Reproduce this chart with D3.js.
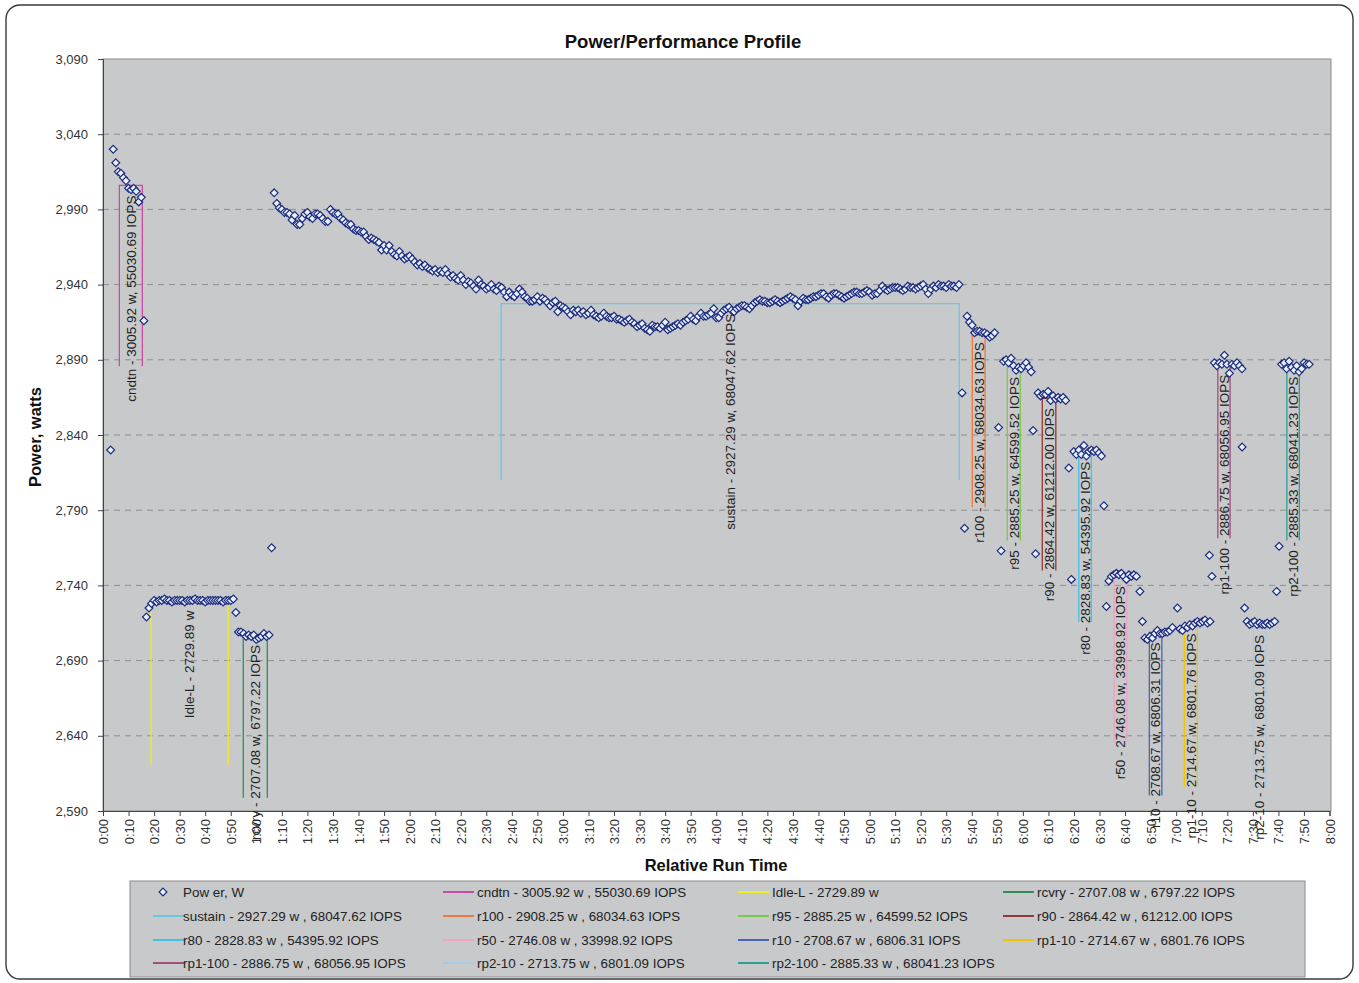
<!DOCTYPE html>
<html><head><meta charset="utf-8">
<script src="https://cdn.jsdelivr.net/npm/d3@7/dist/d3.min.js"></script>
<style>
body{margin:0;background:#fff}
svg{display:block}
text{font-family:Arial,"Liberation Sans",sans-serif}
</style>
</head><body>
<svg id="chart" width="1359" height="983"></svg>
<script>
// ---------------- DATA ----------------
const yTickValues = [2590,2640,2690,2740,2790,2840,2890,2940,2990,3040,3090];
const xTickLabels = ["0:00","0:10","0:20","0:30","0:40","0:50","1:00","1:10","1:20","1:30","1:40","1:50",
  "2:00","2:10","2:20","2:30","2:40","2:50","3:00","3:10","3:20","3:30","3:40","3:50",
  "4:00","4:10","4:20","4:30","4:40","4:50","5:00","5:10","5:20","5:30","5:40","5:50",
  "6:00","6:10","6:20","6:30","6:40","6:50","7:00","7:10","7:20","7:30","7:40","7:50","8:00"];

// first part of the run, one sample per minute starting at minute 3
const profileStart = 3, profileStep = 1;
const profileWatts = [
 2830,3030,3021,3015,3014,3011,3009,3004,3003,3004,3002,2995,2998,2916,
 2719,2725,2728,
 2730,2729,2730,2730,2731,2730,2730,2729,2730,2730,2730,2730,2729,2730,2730,2730,
 2731,2730,2730,2730,2729,2730,2730,2730,2730,2730,2730,2729,2730,2730,2730,2731,
 2722,
 2709,2709,2708,2706,2707,2706,2707,2704,2705,2706,2708,2706,2707,
 2765,
 3001,2994,2991,2990,2988,2988,2987,2983,2986,2980,2980,2984,2987,2988,2985,2984,
 2987,2987,2986,2984,2982,2982,2990,2988,2987,2987,2984,2983,2981,2980,2980,2977,
 2976,2976,2975,2975,2972,2970,2971,2970,2969,2968,2963,2966,2963,2966,2962,2960,
 2959,2962,2959,2957,2958,2959,2957,2955,2953,2954,2952,2953,2951,2950,2949,2950,
 2948,2949,2948,2950,2947,2945,2946,2944,2943,2946,2943,2940,2942,2941,2939,2937,
 2943,2940,2939,2937,2938,2940,2937,2936,2939,2938,2935,2932,2935,2933,2932,2934,
 2937,2935,2932,2931,2929,2929,2930,2932,2929,2931,2930,2928,2926,2928,2929,
 2922,2926,2925,2924,2922,2920,2923,2922,2923,2921,2922,2920,2921,2923,2920,2919,
 2918,2919,2921,2919,2918,2918,2919,2917,2917,2916,2915,2916,2917,2915,2914,2912,
 2913,2914,2911,2910,2909,2913,2912,2912,2911,2913,2915,2910,2911,2912,2913,2914,
 2913,2915,2916,2917,2919,2917,2916,2919,2921,2919,2919,2920,2921,2924,2918,2918,
 2921,2923,2924,2925,2923,2922,2924,2925,2926,2926,2925,2924,2926,2928,2929,2930,
 2929,2929,2928,2928,2929,2930,2929,2928,2929,2930,2931,2932,2931,2930,2926,2929,
 2931,2930,2930,2931,2932,2932,2933,2934,2934,2932,2931,2933,2934,2934,2933,2932,
 2931,2932,2933,2934,2935,2935,2934,2934,2935,2936,2935,2933,2934,2934,2936,2939,
 2937,2936,2937,2938,2938,2938,2937,2936,2937,2939,2938,2938,2937,2938,2939,2940,
 2937,2934,2937,2939,2938,2940,2939,2939,2938,2940,2939,2939,2938,2940
];

// test steps after the sustain phase (each block starts with its transition samples)
const testStep = 0.98;
const testBlockStart = [336.2,350.5,364.0,378.0,391.7,405.8,420.5,433.0,445.8,459.3];
const wR100  = [2868,2778,2919,2915,2913,2908,2909,2909,2908,2908,2907,2905,2906,2908];
const wR95   = [2845,2763,2889,2890,2888,2891,2886,2883,2885,2884,2886,2888,2885,2882];
const wR90   = [2843,2761,2868,2866,2867,2867,2869,2863,2866,2864,2865,2864,2865,2863];
const wR80   = [2818,2744,2829,2827,2830,2827,2833,2826,2829,2830,2829,2830,2828,2826];
const wR50   = [2793,2726,2743,2746,2747,2748,2747,2748,2746,2744,2747,2746,2747,2746];
const wR10   = [2736,2716,2705,2704,2706,2705,2708,2710,2708,2708,2709,2709,2710,2712];
const wRp110 = [2725,2711,2710,2713,2712,2714,2713,2715,2716,2715,2716,2717,2715,2716];
const wRp1100= [2760,2746,2888,2886,2888,2887,2893,2887,2881,2887,2886,2888,2886,2884];
const wRp210 = [2832,2725,2716,2714,2715,2716,2714,2715,2714,2714,2715,2714,2715,2716];
const wRp2100= [2736,2766,2887,2888,2884,2889,2885,2883,2886,2882,2884,2888,2887,2887];
const testBlocks = [wR100,wR95,wR90,wR80,wR50,wR10,wRp110,wRp1100,wRp210,wRp2100];

// phase summaries
const phaseNames = ["cndtn","Idle-L","rcvry","sustain","r100","r95","r90","r80","r50","r10","rp1-10","rp1-100","rp2-10","rp2-100"];
const phaseWatts = [3005.92,2729.89,2707.08,2927.29,2908.25,2885.25,2864.42,2828.83,2746.08,2708.67,2714.67,2886.75,2713.75,2885.33];
const phaseIops  = [55030.69,null,6797.22,68047.62,68034.63,64599.52,61212.00,54395.92,33998.92,6806.31,6801.76,68056.95,6801.09,68041.23];
const phaseFrom  = [6.4,18.8,54.9,155.8,340.2,353.9,367.6,381.9,395.7,409.5,423.2,436.3,450.2,463.3];
const phaseTo    = [15.4,49.0,64.3,335.1,345.2,359.0,372.9,386.8,400.7,414.4,428.3,441.1,455.1,468.2];

// ---------------- STYLE ----------------
const phaseColors = ["#cc4aa6","#eeee22","#2f8f55","#66c9de","#f2773a","#7cc84a","#983535","#3cc3ec",
                     "#f59fc4","#4a64b6","#f2c400","#a34f78","#a6cbe8","#2e9f98"];
const bracketDepth = 0.04;

const svg = d3.select("#chart");
const W = 1359, H = 983;
const plot = {l:103, r:1331, t:59, b:811};

svg.append("rect").attr("x",6).attr("y",5).attr("width",W-12).attr("height",H-9)
  .attr("rx",14).attr("fill","#fff").attr("stroke","#3a3a3a").attr("stroke-width",1.4);

const x = d3.scaleLinear().domain([0,480]).range([plot.l, plot.r-1.5]);
const y = d3.scaleLinear().domain([2590,3090]).range([plot.b, plot.t]);

// plot background
svg.append("rect").attr("x",plot.l).attr("y",plot.t).attr("width",plot.r-plot.l).attr("height",plot.b-plot.t)
  .attr("fill","#c8c9cb").attr("stroke","#8a8a8a").attr("stroke-width",1);

// gridlines
svg.append("g").selectAll("line").data(yTickValues.filter(v=>v>2590 && v<3090)).join("line")
  .attr("x1",plot.l).attr("x2",plot.r).attr("y1",d=>y(d)).attr("y2",d=>y(d))
  .attr("stroke","#8e8e8e").attr("stroke-width",1).attr("stroke-dasharray","6,5");

// y axis
const yAxis = d3.axisLeft(y).tickValues(yTickValues).tickSize(5).tickPadding(10).tickFormat(d3.format(","));
const gy = svg.append("g").attr("transform",`translate(${plot.l},0)`).call(yAxis);
gy.select(".domain").attr("stroke","#444");
gy.selectAll(".tick line").attr("stroke","#444");
gy.selectAll(".tick text").attr("font-size",13).attr("fill","#333").attr("font-family","Arial,'Liberation Sans',sans-serif");

// x axis
const xTickMinutes = xTickLabels.map(s=>{const p=s.split(":");return (+p[0])*60+(+p[1]);});
const xAxis = d3.axisBottom(x).tickValues(xTickMinutes).tickSize(5)
  .tickFormat((d,i)=>xTickLabels[i]);
const gx = svg.append("g").attr("transform",`translate(0,${plot.b})`).call(xAxis);
gx.select(".domain").attr("stroke","#444");
gx.selectAll(".tick line").attr("stroke","#444");
gx.selectAll(".tick text").attr("font-size",13).attr("fill","#333")
  .attr("font-family","Arial,'Liberation Sans',sans-serif")
  .attr("transform","rotate(-90)").attr("text-anchor","end")
  .attr("x",-8).attr("y",0).attr("dy","0.35em");

// phase brackets
const phases = phaseNames.map((n,i)=>({name:n, w:phaseWatts[i], iops:phaseIops[i], from:phaseFrom[i], to:phaseTo[i], color:phaseColors[i]}));
const label = p => p.iops==null ? `${p.name} - ${p.w.toFixed(2)} w` : `${p.name} - ${p.w.toFixed(2)} w, ${p.iops.toFixed(2)} IOPS`;
const legendLabel = p => p.iops==null ? `${p.name} - ${p.w.toFixed(2)} w` : `${p.name} - ${p.w.toFixed(2)} w , ${p.iops.toFixed(2)} IOPS`;

const gb = svg.append("g");
phases.forEach(p=>{
  const yTop = y(p.w), yBot = y(p.w*(1-bracketDepth));
  gb.append("path")
    .attr("d",`M${x(p.from)},${yBot}V${yTop}H${x(p.to)}V${yBot}`)
    .attr("fill","none").attr("stroke",p.color).attr("stroke-width",1.3);
});

// points
let points = profileWatts.map((w,i)=>({t:profileStart+i*profileStep, w}));
testBlocks.forEach((blk,b)=>{
  blk.forEach((w,i)=>points.push({t:testBlockStart[b]+i*testStep, w}));
});
const diamond = "M0,-3.9L3.9,0L0,3.9L-3.9,0Z";
svg.append("g").selectAll("path").data(points).join("path")
  .attr("d",diamond).attr("transform",d=>`translate(${x(d.t)},${y(d.w)})`)
  .attr("fill","#e4f1ff").attr("stroke","#1f2a7c").attr("stroke-width",1.2);

// phase labels
const gl = svg.append("g");
phases.forEach(p=>{
  const cx = (x(p.from)+x(p.to))/2, yEnd = y(p.w)+10;
  gl.append("text").attr("transform",`translate(${cx},${yEnd}) rotate(-90)`)
    .attr("text-anchor","end").attr("dy","0.36em").attr("font-size",13.5).attr("fill","#222")
    .text(label(p));
});

// title & axis titles
svg.append("text").attr("x",683).attr("y",48).attr("text-anchor","middle")
  .attr("font-size",18.5).attr("font-weight","bold").attr("fill","#111").text("Power/Performance Profile");
svg.append("text").attr("transform","translate(41,437) rotate(-90)").attr("text-anchor","middle")
  .attr("font-size",16.5).attr("font-weight","bold").attr("fill","#111").text("Power, watts");
svg.append("text").attr("x",716).attr("y",871).attr("text-anchor","middle")
  .attr("font-size",16.5).attr("font-weight","bold").attr("fill","#111").text("Relative Run Time");

// legend
const lg = svg.append("g");
lg.append("rect").attr("x",130).attr("y",881).attr("width",1175).attr("height",96)
  .attr("fill","#c8c9cb").attr("stroke","#8a8a8a");
const colX = [150,440,735,1000];
const rowY = [892,916,940,963];
const entries = [{type:"marker", text:"Pow er, W"}].concat(phases.map(p=>({type:"line", color:p.color, text:legendLabel(p)})));
entries.forEach((e,i)=>{
  const cx = colX[i%4], cy = rowY[Math.floor(i/4)];
  if(e.type==="marker"){
    lg.append("path").attr("d",diamond).attr("transform",`translate(${cx+13},${cy})`)
      .attr("fill","#e4f1ff").attr("stroke","#1f2a7c").attr("stroke-width",1.2);
  } else {
    lg.append("line").attr("x1",cx+3).attr("x2",cx+34).attr("y1",cy).attr("y2",cy)
      .attr("stroke",e.color).attr("stroke-width",2);
  }
  lg.append("text").attr("x",cx+ (i%4===0?33:37)).attr("y",cy).attr("dy","0.35em")
    .attr("font-size",13.4).attr("fill","#222").text(e.text);
});
</script>
</body></html>
